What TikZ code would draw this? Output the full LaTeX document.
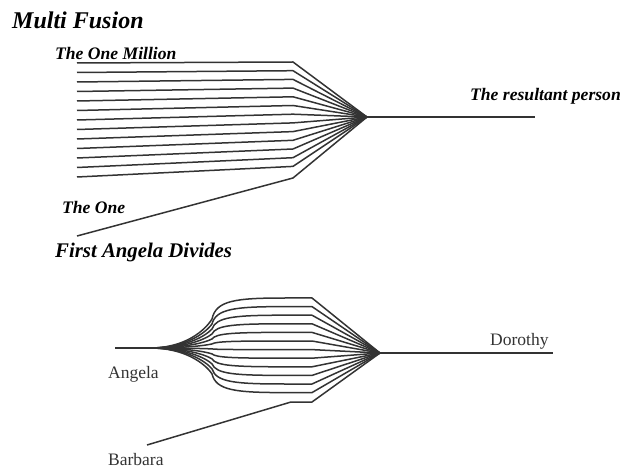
\documentclass[tikz,border=0pt]{standalone}
\usepackage{fontspec}
\setmainfont{Liberation Serif}
\begin{document}
\begin{tikzpicture}[x=1pt,y=-1pt,
  strand/.style={draw=black!80,line width=1.5pt,line join=round},
  titlelbl/.style={font=\bfseries\itshape\fontsize{24}{27}\selectfont,anchor=west,inner sep=0pt},
  boldlbl/.style={font=\bfseries\itshape\fontsize{17.6}{20}\selectfont,anchor=west,inner sep=0pt},
  plainlbl/.style={font=\fontsize{17.5}{20}\selectfont,text=black!80,anchor=west,inner sep=0pt}]
\useasboundingbox (0,0) rectangle (621,470);
% ---------- Multi Fusion ----------
\node[titlelbl] (t1) at (12,20) {Multi Fusion};
\node[boldlbl] (mil) at (55,53) {The One Million};
\node[boldlbl] (one) at (62,207) {The One};
\node[boldlbl] (res) at (470,96) {The resultant person};
\coordinate (apexA) at (367,117);
\coordinate (endA) at (535,117);
\foreach \i in {0,...,12}{
  \draw[strand] (77,{63+9.5*\i}) -- (293,{62+8.7*\i}) -- (apexA);
}
\coordinate (oneS) at (77,236);
\coordinate (oneB) at (293,178);
\draw[strand] (oneS) -- (oneB) -- (apexA);
\draw[strand] (apexA) -- (endA);
% ---------- First Angela Divides ----------
\node[titlelbl,font=\bfseries\itshape\fontsize{20.8}{24}\selectfont] (t2) at (55,252) {First Angela Divides};
\node[plainlbl] (ang) at (108,374) {Angela};
\node[plainlbl] (bar) at (108,460) {Barbara};
\node[plainlbl] (dor) at (490,341) {Dorothy};
\coordinate (angS) at (115,348);
\coordinate (angF) at (150,348);
\coordinate (apexB) at (380,353);
\coordinate (endB) at (553,353);
\draw[strand] (angS) -- (angF);
\foreach \i in {0,...,11}{
  \pgfmathsetmacro{\d}{-50+8.6*\i}
  \draw[strand] (angF) .. controls (185,348) and (205,{348+0.35*\d}) .. (212,{348+0.58*\d})
     .. controls (216,{348+0.95*\d}) and (235,{348+\d}) .. (285,{348+\d}) -- (312,{348+\d}) -- (apexB);
}
\coordinate (barS) at (147,445);
\coordinate (barB) at (291,402);
\coordinate (barC) at (312,402);
\draw[strand] (barS) -- (barB) -- (barC) -- (apexB);
\draw[strand] (apexB) -- (endB);
\end{tikzpicture}
\end{document}
